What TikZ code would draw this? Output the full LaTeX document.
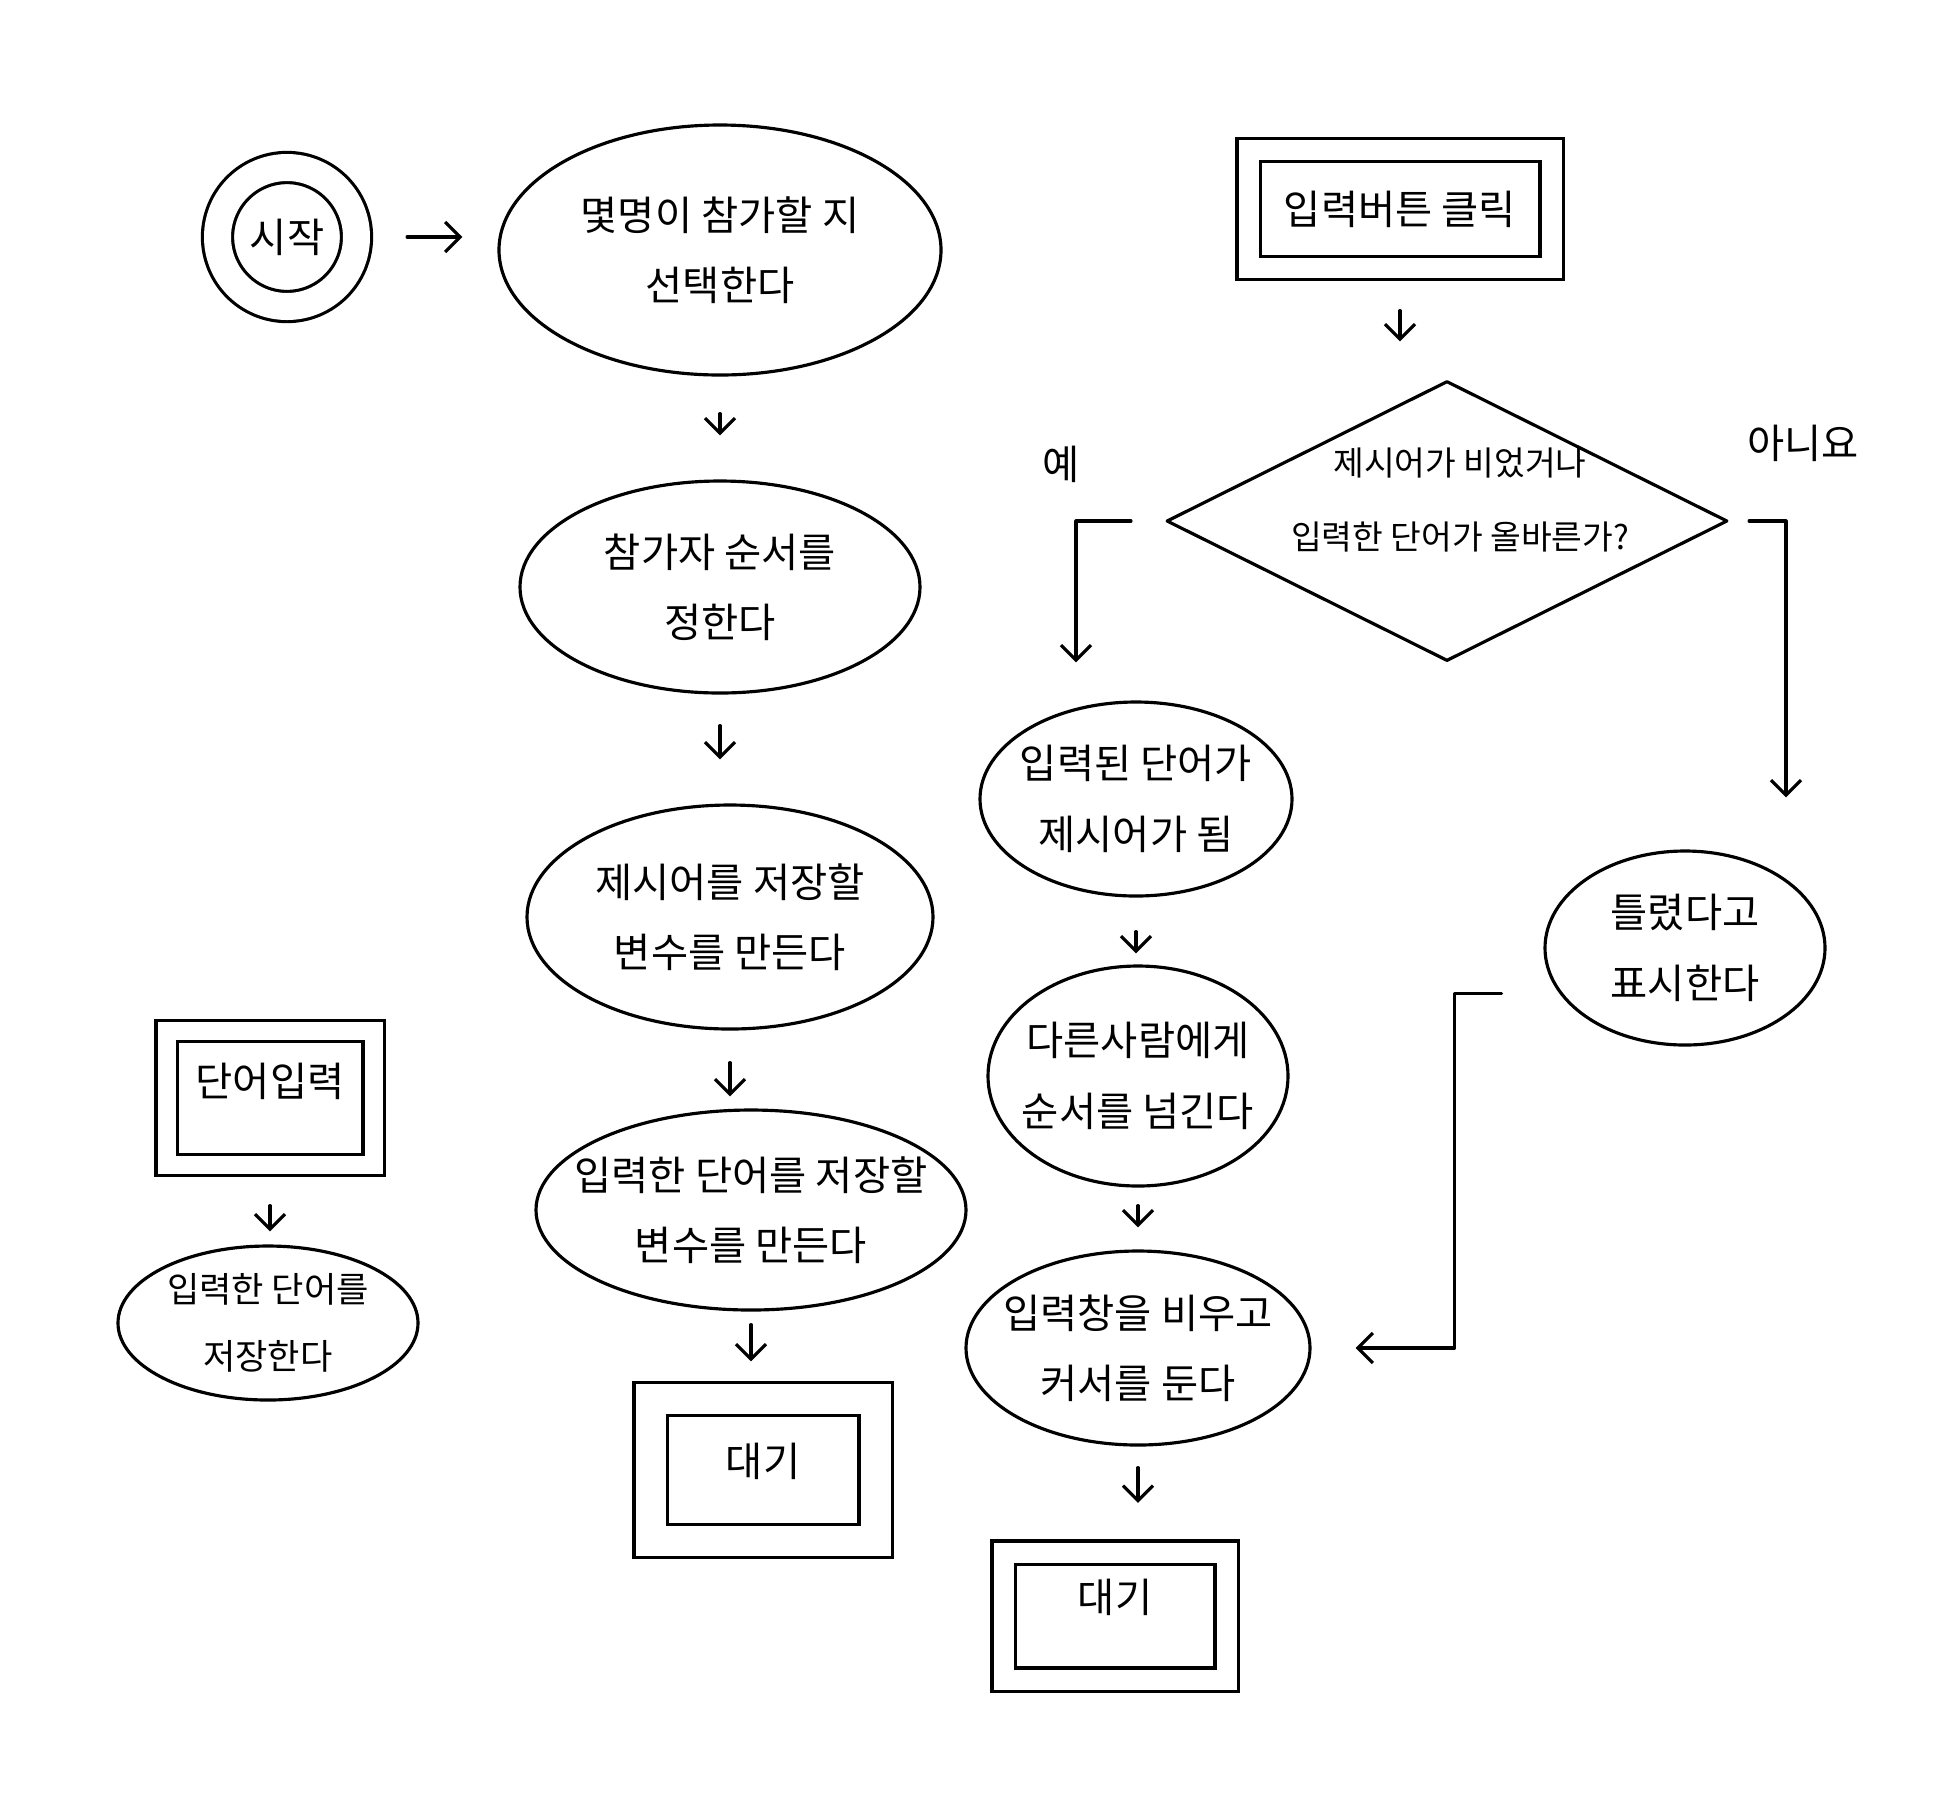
\documentclass[tikz,border=0pt]{standalone}
\usepackage{fontspec}
\newfontfamily\krfont{Noto Sans CJK KR}
\usetikzlibrary{arrows.meta,shapes.geometric}
\tikzset{
  sketch/.style={
    line width=0.9pt,
    line cap=round,
    line join=round
  },
  txt/.style={font=\krfont\fontsize{11.5}{20}\selectfont, align=center},
  smalltxt/.style={font=\krfont\fontsize{9.5}{21}\selectfont, align=center},
  bubble/.style={ellipse, draw, txt, inner sep=-4mm},
  screen/.style={rectangle, draw, double, double distance=3mm, line join=miter,
    txt, inner sep=0pt},
  decision/.style={diamond, draw, inner sep=0pt},
  startnode/.style={circle, draw, double, double distance=2.7mm, txt,
    minimum size=1.39cm, inner sep=0pt},
  flow/.style={-{Straight Barb[length=1.5mm,width=3mm]}}
}

\begin{document}
\begin{tikzpicture}[sketch]
  \useasboundingbox (0,0) rectangle (19.57,-18.06);
  % middle column
  \node[startnode] (start) at (2.87,-2.37) {시작};
  \node[bubble, minimum width=4.42cm, minimum height=2.50cm] (ask) at (7.20,-2.50) {몇명이 참가할 지\\선택한다};
  \node[bubble, minimum width=4.00cm, minimum height=2.12cm] (order) at (7.20,-5.87) {참가자 순서를\\정한다};
  \node[bubble, minimum width=4.06cm, minimum height=2.24cm] (hintvar) at (7.30,-9.17) {제시어를 저장할\\변수를 만든다};
  \node[bubble, minimum width=4.30cm, minimum height=2.00cm] (wordvar) at (7.51,-12.10) {입력한 단어를 저장할\\변수를 만든다};
  \node[screen, minimum width=2.25cm, minimum height=1.42cm, text depth=2mm] (waitA) at (7.63,-14.70) {대기};
  % left
  \node[screen, double distance=1.8mm, minimum width=2.07cm, minimum height=1.34cm, text depth=3.6mm] (wordin) at (2.70,-10.98) {단어입력};
  \node[bubble, font=\krfont\fontsize{10}{19}\selectfont, minimum width=3.00cm, minimum height=1.54cm] (store) at (2.68,-13.23) {입력한 단어를\\저장한다};
  % right
  \node[screen, double distance=2mm, minimum width=3.03cm, minimum height=1.18cm] (btn) at (14.00,-2.09) {입력버튼 클릭};
  \node[decision, minimum width=5.61cm, minimum height=2.80cm] (check) at (14.47,-5.21) {};
  \node[smalltxt] (checktext) at (14.60,-5.00) {제시어가 비었거나\\입력한 단어가 올바른가?};
  \node[txt] (yes) at (10.61,-4.64) {예};
  \node[txt] (no) at (18.03,-4.43) {아니요};
  \node[bubble, minimum width=3.12cm, minimum height=1.94cm] (newhint) at (11.36,-7.99) {입력된 단어가\\제시어가 됨};
  \node[bubble, minimum width=3.00cm, minimum height=2.20cm] (pass) at (11.38,-10.76) {다른사람에게\\순서를 넘긴다};
  \node[bubble, minimum width=3.44cm, minimum height=1.94cm] (clear) at (11.38,-13.48) {입력창을 비우고\\커서를 둔다};
  \node[screen, double distance=2mm, minimum width=2.23cm, minimum height=1.27cm, text depth=4mm] (waitB) at (11.15,-16.16) {대기};
  \node[bubble, minimum width=2.80cm, minimum height=1.94cm] (wrong) at (16.85,-9.48) {틀렸다고\\표시한다};

  % arrows
  \draw[flow, shorten <=4.9mm, shorten >=3.5mm] (start.east) -- (start.east -| ask.west);
  \foreach \a/\b/\s/\e in {ask/order/3.7mm/4.4mm, order/hintvar/3.1mm/4.4mm,
      hintvar/wordvar/3.2mm/1.2mm, wordvar/waitA/1.3mm/3.6mm,
      btn/check/4.1mm/3.8mm, newhint/pass/3.4mm/1.1mm, pass/clear/1.8mm/2.2mm,
      clear/waitB/2.1mm/4.8mm, wordin/store/3.9mm/1.3mm}
    \draw[flow, shorten <=\s, shorten >=\e] (\a.south) -- (\a.south |- \b.north);
  \draw[flow] ([xshift=-3.4mm]check.west) -| ([xshift=-6mm,yshift=3.8mm]newhint.north);
  \draw[flow] ([xshift=2mm]check.east) -| ([xshift=10.1mm,yshift=5.2mm]wrong.north);
  \draw[flow] ([xshift=-5.8mm]wrong.200) -- ++(-0.47,0) |- ([xshift=4.4mm]clear.east);
\end{tikzpicture}
\end{document}
